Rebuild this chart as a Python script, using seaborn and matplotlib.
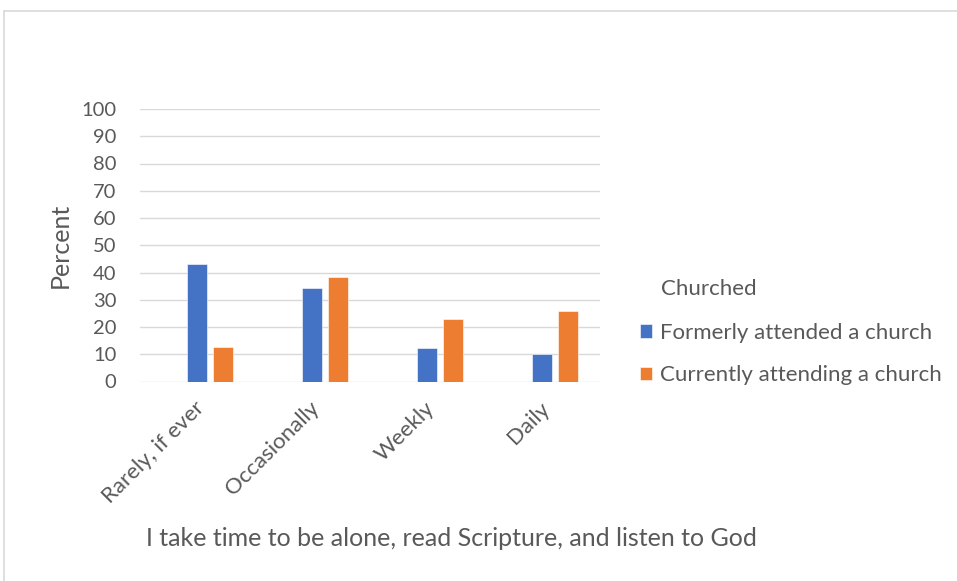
import matplotlib
matplotlib.use("Agg")
import matplotlib.pyplot as plt
import matplotlib.transforms as mtransforms
from matplotlib.lines import Line2D
import seaborn as sns
import pandas as pd

# Survey responses by churched status (percent)
categories = ["Rarely, if ever", "Occasionally", "Weekly", "Daily"]
series_names = ["Formerly attended a church", "Currently attending a church"]
formerly = [43.2, 34.2, 12.2, 10.2]
currently = [12.7, 38.5, 22.9, 25.8]
y_ticks = [0, 10, 20, 30, 40, 50, 60, 70, 80, 90, 100]

colors = ["#4472C4", "#ED7D31"]
text_color = "#595959"
grid_color = "#D9D9D9"

df = pd.DataFrame({
    "Response": categories * 2,
    "Percent": formerly + currently,
    "Churched": [series_names[0]] * len(categories) + [series_names[1]] * len(categories),
})

sns.set_theme(style="white")
plt.rcParams["font.family"] = ["Lato", "DejaVu Sans"]

W, H = 957, 581
fig = plt.figure(figsize=(W / 100, H / 100), dpi=100)
ax = fig.add_axes([140 / W, 1 - 381.5 / H, 460 / W, (381.5 - 109) / H])

sns.barplot(
    data=df, x="Response", y="Percent", hue="Churched",
    order=categories, hue_order=series_names,
    palette=colors, width=0.443, gap=0.216, saturation=1,
    edgecolor="white", linewidth=0.4, ax=ax, legend=True,
)

ax.set_ylim(0, 100)
ax.set_xlim(-0.609, 3.391)
ax.set_yticks(y_ticks)
ax.yaxis.grid(True, color=grid_color, linewidth=1.0)
ax.set_axisbelow(True)
for s in ax.spines.values():
    s.set_visible(False)
ax.tick_params(axis="both", length=0, colors=text_color, labelsize=14.5)
ax.tick_params(axis="y", pad=17)
ax.set_xlabel("")
ax.set_ylabel("")

ax.set_xticks(range(len(categories)))
ax.set_xticklabels(categories, rotation=45, ha="right", va="center",
                   rotation_mode="anchor", color=text_color, fontsize=16)
ax.tick_params(axis="x", pad=17)
shift = mtransforms.ScaledTranslation(-9 / 100, 0, fig.dpi_scale_trans)
for lbl in ax.get_xticklabels():
    lbl.set_transform(lbl.get_transform() + shift)

# Legend placed to the right of the plot
handles, labels = ax.get_legend_handles_labels()
ax.get_legend().remove()
fig.legend(handles, labels, loc="upper left",
           bbox_to_anchor=(640 / W, 1 - 323 / H), frameon=False,
           fontsize=16, labelcolor=text_color, handlelength=0.55,
           handleheight=0.55, handletextpad=0.35, labelspacing=1.0,
           borderaxespad=0, borderpad=0)
fig.text(661 / W, 1 - 289 / H, "Churched", ha="left", va="center",
         fontsize=16, color=text_color)

fig.text(60 / W, 1 - 245 / H, "Percent", rotation=90, ha="center",
         va="center", fontsize=18, color=text_color)
fig.text(451 / W, 1 - 538 / H, "I take time to be alone, read Scripture, and listen to God",
         ha="center", va="center", fontsize=18, color=text_color)

# Chart frame (top and left edges)
fig.add_artist(Line2D([3.5 / W, 1], [1 - 10.5 / H, 1 - 10.5 / H],
                      transform=fig.transFigure, color=grid_color, linewidth=1.2))
fig.add_artist(Line2D([3.5 / W, 3.5 / W], [0, 1 - 10.5 / H],
                      transform=fig.transFigure, color=grid_color, linewidth=1.2))

fig.savefig("out.png", dpi=100, facecolor="white")
